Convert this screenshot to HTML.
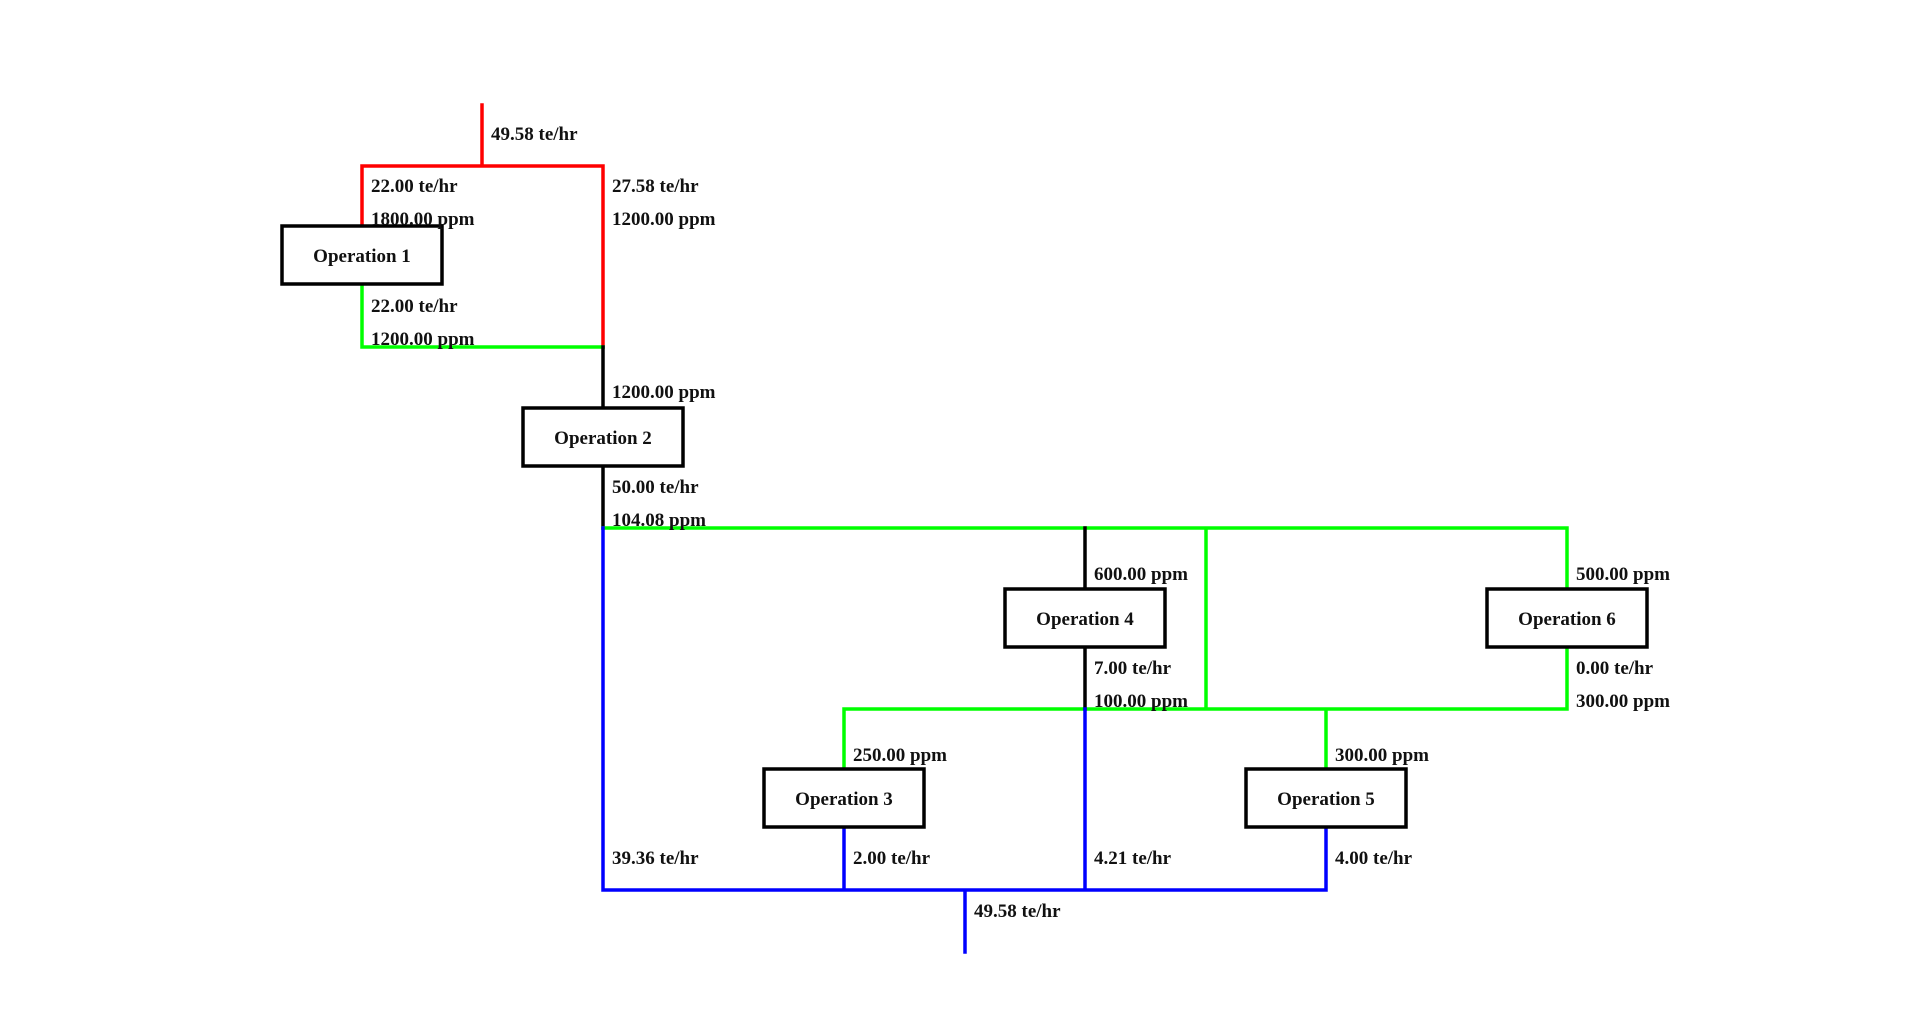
<!DOCTYPE html>
<html><head><meta charset="utf-8"><style>
html,body{margin:0;padding:0;background:#fff;}
svg text{font-family:"Liberation Serif",serif;font-weight:bold;font-size:19px;fill:#111;}
</style></head><body>
<svg width="1920" height="1010" viewBox="0 0 1920 1010" xmlns="http://www.w3.org/2000/svg">
<g fill="none" stroke-width="3.5" stroke-linecap="square">
<path d="M482 105 V166 M362 225 V166 H603 V347" stroke="#ff0000"/>
<path d="M362 285 V347 H603" stroke="#00ff00"/>
<path d="M603 347 V407 M603 466 V528" stroke="#000"/>
<path d="M603 528 H1567 V588 M1206 528 V709 M1567 647 V709 H844 V768 M1326 709 V768" stroke="#00ff00"/>
<path d="M1085 528 V588 M1085 647 V709" stroke="#000"/>
<path d="M603 528 V890 H1326 V828 M844 828 V890 M1085 709 V890 M965 890 V952" stroke="#0000ff"/>
</g>
<g fill="#fff" stroke="#000" stroke-width="3.5">
<rect x="282" y="226" width="160" height="58"/>
<rect x="523" y="408" width="160" height="58"/>
<rect x="1005" y="589" width="160" height="58"/>
<rect x="1487" y="589" width="160" height="58"/>
<rect x="764" y="769" width="160" height="58"/>
<rect x="1246" y="769" width="160" height="58"/>
</g>
<g text-anchor="middle">
<text x="362" y="262">Operation 1</text>
<text x="603" y="444">Operation 2</text>
<text x="1085" y="625">Operation 4</text>
<text x="1567" y="625">Operation 6</text>
<text x="844" y="805">Operation 3</text>
<text x="1326" y="805">Operation 5</text>
</g>
<text x="491" y="140">49.58 te/hr</text>
<text x="371" y="192">22.00 te/hr</text>
<text x="371" y="225">1800.00 ppm</text>
<text x="612" y="192">27.58 te/hr</text>
<text x="612" y="225">1200.00 ppm</text>
<text x="371" y="312">22.00 te/hr</text>
<text x="371" y="345">1200.00 ppm</text>
<text x="612" y="398">1200.00 ppm</text>
<text x="612" y="493">50.00 te/hr</text>
<text x="612" y="526">104.08 ppm</text>
<text x="1094" y="580">600.00 ppm</text>
<text x="1094" y="674">7.00 te/hr</text>
<text x="1094" y="707">100.00 ppm</text>
<text x="1576" y="580">500.00 ppm</text>
<text x="1576" y="674">0.00 te/hr</text>
<text x="1576" y="707">300.00 ppm</text>
<text x="853" y="761">250.00 ppm</text>
<text x="1335" y="761">300.00 ppm</text>
<text x="612" y="864">39.36 te/hr</text>
<text x="853" y="864">2.00 te/hr</text>
<text x="1094" y="864">4.21 te/hr</text>
<text x="1335" y="864">4.00 te/hr</text>
<text x="974" y="917">49.58 te/hr</text>
</svg>
</body></html>
